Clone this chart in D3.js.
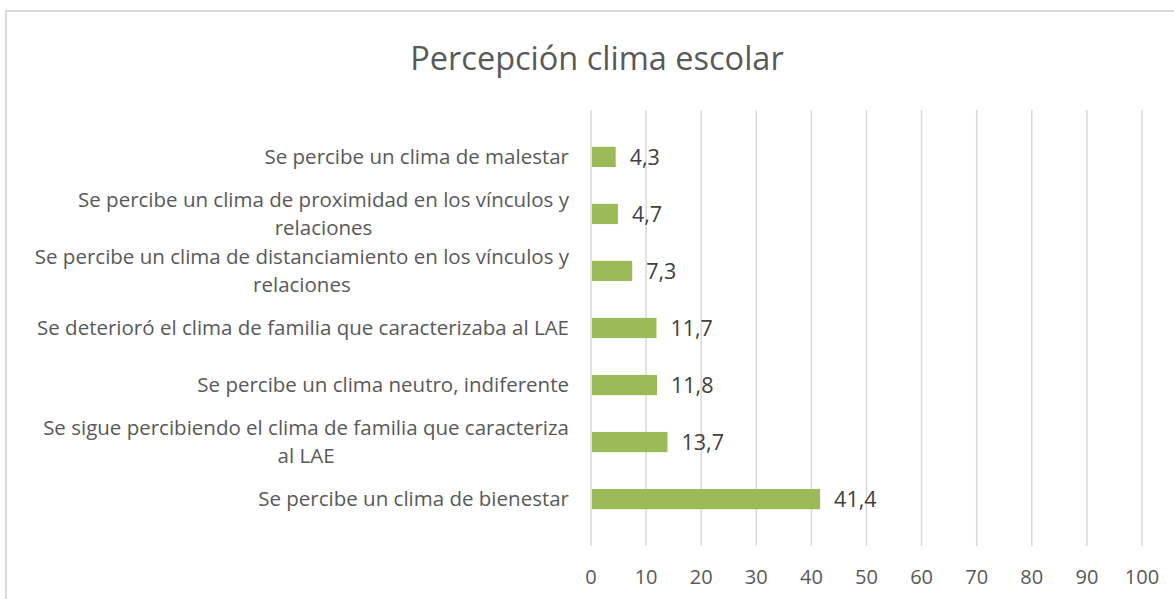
<!DOCTYPE html>
<html lang='es'>
  <head>
    <meta charset='utf-8'>
    <style>
      body { margin: 0; background: #fff; }
      svg { display: block; font-family: 'Open Sans', 'Noto Sans', sans-serif; }
    </style>
  </head>
  <body>
    <div id='chart'></div>
    <script src='https://cdn.jsdelivr.net/npm/d3@7'></script>
    <script>
      var categories = [
        ['Se percibe un clima de malestar'],
        ['Se percibe un clima de proximidad en los vínculos y', 'relaciones'],
        ['Se percibe un clima de distanciamiento en los vínculos y', 'relaciones'],
        ['Se deterioró el clima de familia que caracterizaba al LAE'],
        ['Se percibe un clima neutro, indiferente'],
        ['Se sigue percibiendo el clima de familia que caracteriza', 'al LAE'],
        ['Se percibe un clima de bienestar']
      ];
      var values = [4.3, 4.7, 7.3, 11.7, 11.8, 13.7, 41.4];
      var xTicks = [0, 10, 20, 30, 40, 50, 60, 70, 80, 90, 100];

      (function () {
        var width = 1174, height = 599;
        var plotL = 591, plotR = 1142, plotT = 110, plotB = 546;

        var svg = d3.select('#chart').append('svg')
            .attr('width', width)
            .attr('height', height);

        // chart frame (clipped by the window on right and bottom)
        svg.append('rect')
            .attr('x', 6).attr('y', 11)
            .attr('width', 1200).attr('height', 620)
            .attr('fill', '#fff')
            .attr('stroke', '#d9d9d9')
            .attr('stroke-width', 2);

        svg.append('text')
            .attr('x', 597).attr('y', 70)
            .attr('text-anchor', 'middle')
            .attr('font-size', 32.5)
            .attr('fill', '#595959')
            .text('Percepción clima escolar');

        var x = d3.scaleLinear().domain([0, 100]).range([plotL, plotR]);
        var y = d3.scaleBand().domain(d3.range(values.length)).range([plotT, plotB]).padding(0.645);

        svg.append('g').selectAll('line')
            .data(xTicks)
          .enter().append('line')
            .attr('x1', function (d) { return x(d); })
            .attr('x2', function (d) { return x(d); })
            .attr('y1', plotT).attr('y2', plotB)
            .attr('stroke', '#d9d9d9')
            .attr('stroke-width', 1.5);

        svg.append('g').selectAll('text')
            .data(xTicks)
          .enter().append('text')
            .attr('x', function (d) { return x(d); })
            .attr('y', 584)
            .attr('text-anchor', 'middle')
            .attr('font-size', 20)
            .attr('fill', '#595959')
            .text(function (d) { return d; });

        svg.append('g').selectAll('rect')
            .data(values)
          .enter().append('rect')
            .attr('x', x(0) + 1)
            .attr('y', function (d, i) { return y(i); })
            .attr('width', function (d) { return x(d) - x(0); })
            .attr('height', y.bandwidth())
            .attr('fill', '#9bbb59');

        svg.append('g').selectAll('text')
            .data(values)
          .enter().append('text')
            .attr('x', function (d) { return x(d) + 15; })
            .attr('y', function (d, i) { return y(i) + y.bandwidth() / 2 + 8; })
            .attr('font-size', 21.5)
            .attr('fill', '#404040')
            .text(function (d) { return d.toFixed(1).replace('.', ','); });

        // category labels: right aligned block, lines centred inside it
        var labelRight = 569, lineH = 28;
        categories.forEach(function (lines, i) {
          var g = svg.append('g');
          var texts = lines.map(function (l) {
            return g.append('text')
                .attr('font-size', 20.5)
                .attr('fill', '#595959')
                .attr('text-anchor', 'middle')
                .text(l);
          });
          var w = d3.max(texts, function (t) { return t.node().getComputedTextLength(); });
          var cy = y(i) + y.bandwidth() / 2;
          var y0 = cy - (lines.length - 1) * lineH / 2 + 7;
          texts.forEach(function (t, j) {
            t.attr('x', labelRight - w / 2).attr('y', y0 + j * lineH);
          });
        });
      })();
    </script>
  </body>
</html>
